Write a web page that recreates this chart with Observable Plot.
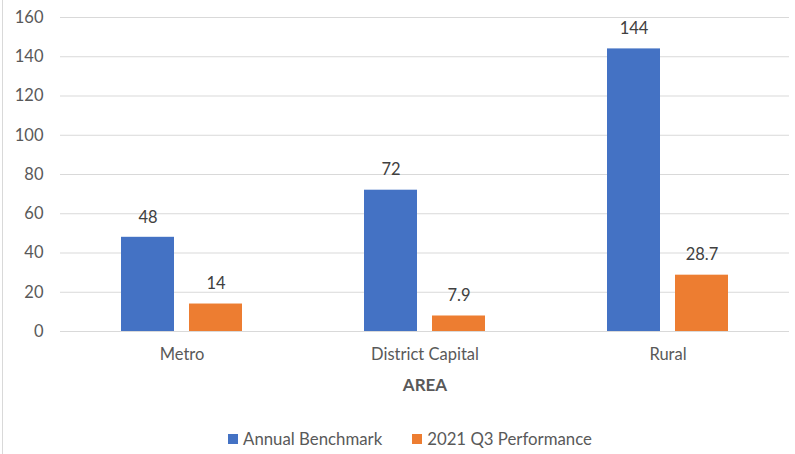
<!DOCTYPE html>
<html>
<head>
<meta charset="utf-8">
<script src="https://cdn.jsdelivr.net/npm/d3@7"></script>
<script src="https://cdn.jsdelivr.net/npm/@observablehq/plot@0.6"></script>
<style>
  body { margin: 0; background: #fff; font-family: Lato, "Open Sans", sans-serif; }
  #wrap { position: relative; width: 795px; height: 454px; overflow: hidden; }
  #border { position: absolute; left: 2px; top: 0; width: 1px; height: 454px; background: #d9d9d9; }
  #chart { position: absolute; left: 0; top: 0; }
  #xtitle { position: absolute; left: 0; width: 850px; top: 374px; text-align: center; font-weight: bold; font-size: 17px; color: #595959; }
  #legend { position: absolute; left: 0; top: 428px; width: 820px; display: flex; justify-content: center; gap: 30px; font-size: 16.8px; color: #595959; }
  #legend span.item { display: inline-flex; align-items: center; gap: 5px; }
  #legend span.sw { display: inline-block; width: 10px; height: 10px; }
</style>
</head>
<body>
<div id="wrap">
  <div id="border"></div>
  <div id="chart"></div>
  <div id="xtitle"></div>
  <div id="legend"></div>
</div>
<script>
const areas = ["Metro", "District Capital", "Rural"];
const seriesNames = ["Annual Benchmark", "2021 Q3 Performance"];
const annualBenchmark = [48, 72, 144];
const q3Performance = [14, 7.9, 28.7];
const yTicks = [0, 20, 40, 60, 80, 100, 120, 140, 160];
const colors = ["#4472C4", "#ED7D31"];
const xTitle = "AREA";

const data = [];
areas.forEach((a, i) => {
  data.push({area: a, series: seriesNames[0], value: annualBenchmark[i]});
  data.push({area: a, series: seriesNames[1], value: q3Performance[i]});
});

const plot = Plot.plot({
  width: 795,
  height: 405,
  marginLeft: 60,
  marginRight: 6,
  marginTop: 17,
  marginBottom: 74,
  style: {fontFamily: "Lato, 'Open Sans', sans-serif", fontSize: "16.5px", color: "#595959", background: "transparent"},
  fx: {domain: areas, padding: 0, label: null, tickSize: 0, tickPadding: 17, axis: "bottom"},
  x: {domain: seriesNames, paddingInner: 0.217, paddingOuter: 0.87, axis: null},
  y: {domain: [0, 160], ticks: yTicks, tickSize: 0, tickPadding: 17, label: null, grid: false},
  color: {domain: seriesNames, range: colors},
  facet: {data: data, x: "area"},
  marks: [
    Plot.ruleY(yTicks, {stroke: "#d9d9d9", strokeWidth: 1}),
    Plot.barY(data, {x: "series", y: "value", fill: "series", fx: "area"}),
    Plot.text(data, {x: "series", y: "value", text: d => String(d.value), fx: "area", dy: -20, fill: "#404040", fontSize: 16.5})
  ]
});
document.getElementById("chart").appendChild(plot);

document.getElementById("xtitle").textContent = xTitle;
const leg = document.getElementById("legend");
seriesNames.forEach((s, i) => {
  const item = document.createElement("span");
  item.className = "item";
  const sw = document.createElement("span");
  sw.className = "sw";
  sw.style.background = colors[i];
  const t = document.createElement("span");
  t.textContent = s;
  item.appendChild(sw);
  item.appendChild(t);
  leg.appendChild(item);
});
</script>
</body>
</html>
